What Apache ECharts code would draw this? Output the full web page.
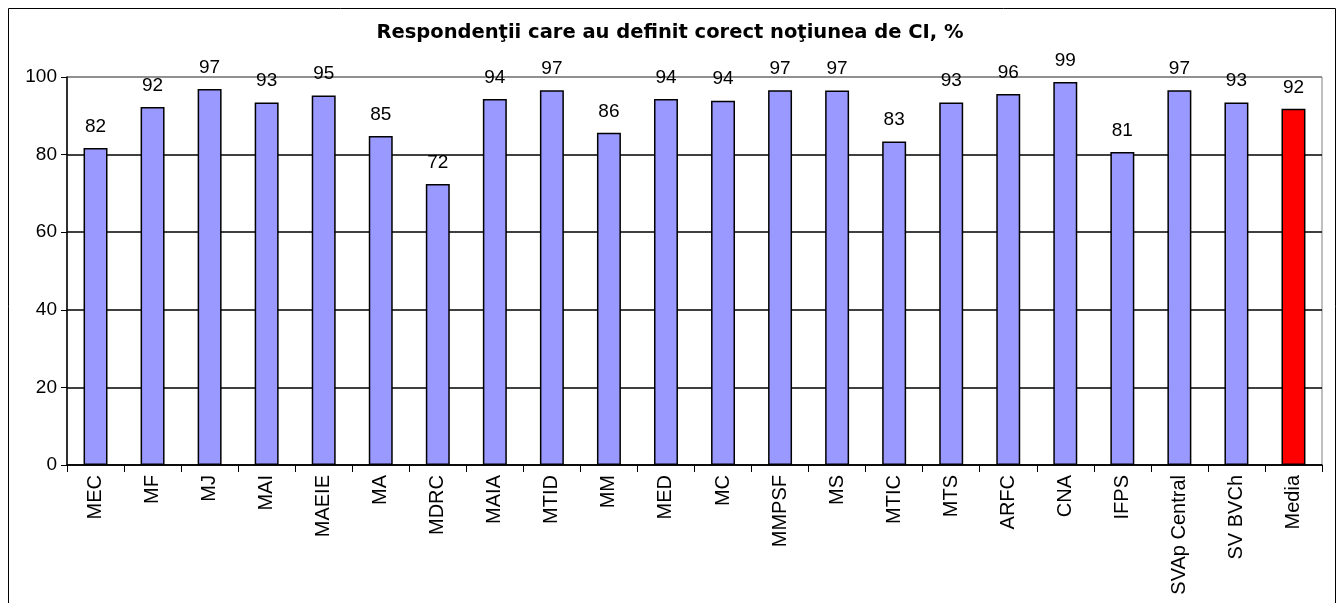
<!DOCTYPE html>
<html>
<head>
<meta charset="utf-8">
<script src="https://cdn.jsdelivr.net/npm/echarts@6/dist/echarts.min.js"></script>
<style>
  html, body { margin: 0; padding: 0; background: #fff; }
  #chart { width: 1340px; height: 603px; }
</style>
</head>
<body>
<div id="chart"></div>
<script>
// categories (institutii)
var categories = ['MEC', 'MF', 'MJ', 'MAI', 'MAEIE', 'MA', 'MDRC', 'MAIA', 'MTID', 'MM', 'MED',
  'MC', 'MMPSF', 'MS', 'MTIC', 'MTS', 'ARFC', 'CNA', 'IFPS', 'SVAp Central', 'SV BVCh', 'Media']
// % respondenti
var values = [81.7, 92.3, 96.9, 93.4, 95.2, 84.8, 72.4, 94.3, 96.6, 85.6, 94.3,
  93.9, 96.6, 96.5, 83.4, 93.4, 95.6, 98.7, 80.7, 96.6, 93.4, 91.8]
var yTicks = [0, 20, 40, 60, 80, 100]

var chart = echarts.init(document.getElementById('chart'))

var data = values.map(function (v, i) {
  return {
    value: v,
    itemStyle: { color: categories[i] === 'Media' ? '#ff0000' : '#9999ff' }
  }
})

chart.setOption({
  animation: false,
  title: {
    text: 'Respondenţii care au definit corect noţiunea de CI, %',
    left: 'center',
    top: 18,
    textStyle: { fontFamily: 'DejaVu Sans', fontWeight: 'bold', fontSize: 19.5, color: '#000' }
  },
  graphic: [{
    type: 'rect',
    shape: { x: 8.5, y: 8.5, width: 1327, height: 620 },
    style: { fill: null, stroke: '#000', lineWidth: 1 },
    silent: true
  }],
  grid: {
    left: 67, right: 18, top: 77, bottom: 138,
    show: true, borderColor: '#808080', borderWidth: 1
  },
  xAxis: {
    type: 'category',
    data: categories,
    axisLine: { lineStyle: { color: '#000', width: 1.5 } },
    axisTick: { show: true, length: 7, lineStyle: { color: '#000' } },
    axisLabel: {
      rotate: 90, interval: 0, margin: 10,
      fontFamily: 'Liberation Sans', fontSize: 20, color: '#000'
    }
  },
  yAxis: {
    type: 'value',
    min: yTicks[0],
    max: yTicks[yTicks.length - 1],
    interval: 20,
    axisLine: { show: true, lineStyle: { color: '#000', width: 1.5 } },
    axisTick: { show: true, length: 6, lineStyle: { color: '#000' } },
    axisLabel: { fontFamily: 'Liberation Sans', fontSize: 19, color: '#000', margin: 10 },
    splitLine: {
      lineStyle: { color: ['#000', '#000', '#000', '#000', '#000', '#808080'], width: 1.5 }
    }
  },
  series: [{
    type: 'bar',
    data: data,
    barCategoryGap: '58%',
    itemStyle: { borderColor: '#000', borderWidth: 1.5 },
    label: {
      show: true,
      position: 'top',
      distance: 12,
      fontFamily: 'Liberation Sans',
      fontSize: 19,
      color: '#000',
      formatter: function (p) { return Math.round(p.value) }
    }
  }]
})
</script>
</body>
</html>
